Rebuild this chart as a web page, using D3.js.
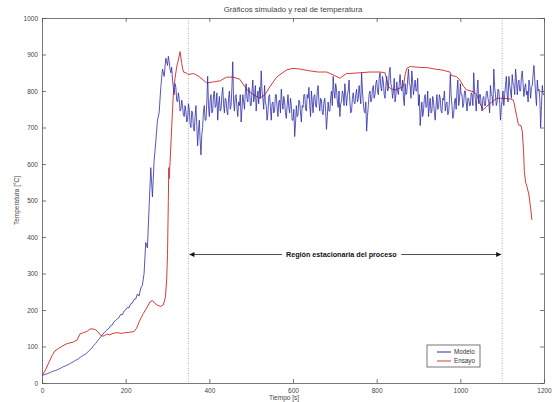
<!DOCTYPE html>
<html lang="es">
<head>
<meta charset="UTF-8">
<script src="https://cdn.jsdelivr.net/npm/d3@7"></script>
<title>Temperatura</title>
<style>
  body { margin: 0; background: #fff; }
  text { font-family: "Liberation Sans", Arial, sans-serif; fill: #333; }
</style>
</head>
<body>
<div id="chart" style="width: 553px; height: 402px;"></div>
<script>
var xTicks = [0, 200, 400, 600, 800, 1000, 1200];
var yTicks = [0, 100, 200, 300, 400, 500, 600, 700, 800, 900, 1000];
var seriesNames = ["Modelo", "Ensayo"];
var seriesColors = ["#2c2caa", "#d93a3a"];

// Modelo, subida: una muestra cada 4 s, t = 0 .. 296
var riseStep = 4;
var modeloRise = [
  20, 22, 24, 25, 27, 29, 31, 33, 34, 36,
  38, 40, 43, 45, 47, 49, 51, 54, 56, 59,
  62, 64, 67, 71, 74, 77, 79, 83, 88, 92,
  97, 103, 108, 114, 120, 126, 131, 137, 142, 146,
  150, 157, 159, 168, 171, 176, 179, 188, 187, 197,
  200, 207, 206, 217, 219, 229, 230, 244, 238, 260,
  268, 300, 385, 370, 480, 590, 510, 610, 660, 720,
  740, 810, 860, 840, 890
];

// Modelo, region ruidosa: una muestra cada 2 s, t = 300 .. 1200
var bandStart = 300, bandStep = 2;
var modeloBand = [
  870, 895, 880, 860, 850, 865, 830, 810, 790, 820, 810, 775, 770, 795, 780, 745, 750, 775, 760, 735,
  730, 760, 745, 715, 720, 765, 750, 710, 700, 745, 740, 700, 690, 730, 760, 705, 650, 690, 720, 665,
  625, 680, 700, 745, 760, 720, 720, 770, 840, 760, 730, 775, 790, 740, 745, 790, 800, 755, 760, 795,
  720, 760, 785, 745, 750, 790, 810, 765, 740, 780, 775, 745, 735, 780, 800, 750, 760, 810, 880, 770,
  745, 785, 790, 755, 730, 770, 760, 790, 715, 750, 790, 770, 750, 795, 820, 780, 770, 810, 805, 760,
  760, 800, 830, 770, 785, 815, 745, 780, 800, 765, 810, 780, 855, 800, 780, 750, 815, 770, 760, 720,
  740, 785, 790, 755, 720, 765, 770, 740, 745, 790, 790, 755, 730, 770, 775, 740, 805, 770, 750, 785,
  770, 740, 725, 760, 790, 755, 740, 780, 760, 720, 720, 750, 675, 710, 760, 730, 735, 775, 770, 740,
  715, 760, 755, 790, 790, 750, 745, 790, 780, 810, 760, 730, 800, 770, 740, 785, 790, 760, 755, 800,
  815, 770, 745, 780, 775, 740, 735, 770, 780, 745, 695, 730, 770, 745, 745, 780, 800, 760, 840, 800,
  780, 820, 805, 770, 755, 800, 730, 765, 770, 800, 790, 760, 820, 790, 760, 790, 800, 830, 770, 740,
  745, 780, 795, 770, 765, 790, 805, 770, 780, 815, 790, 765, 850, 800, 770, 745, 740, 770, 690, 730,
  760, 790, 800, 770, 775, 805, 815, 780, 790, 820, 830, 800, 790, 835, 850, 810, 800, 840, 825, 790,
  780, 815, 840, 800, 805, 850, 865, 820, 810, 780, 800, 835, 770, 790, 825, 800, 790, 820, 845, 810,
  800, 830, 780, 760, 820, 790, 795, 830, 860, 820, 815, 780, 855, 825, 790, 810, 830, 800, 800, 835,
  760, 790, 705, 740, 770, 730, 745, 780, 790, 755, 760, 800, 730, 760, 780, 740, 745, 785, 770, 740,
  720, 760, 790, 750, 755, 790, 780, 745, 740, 780, 775, 800, 745, 765, 770, 735, 740, 775, 845, 790,
  760, 725, 735, 770, 780, 750, 800, 830, 760, 775, 820, 790, 790, 755, 765, 800, 800, 770, 745, 780,
  780, 760, 760, 795, 790, 760, 850, 800, 775, 745, 800, 830, 765, 790, 790, 760, 745, 780, 785, 760,
  760, 795, 800, 780, 770, 740, 815, 790, 785, 760, 860, 810, 790, 760, 770, 805, 800, 770, 720, 755,
  775, 800, 760, 790, 815, 840, 790, 770, 840, 815, 800, 780, 845, 820, 815, 790, 860, 835, 790, 820,
  830, 800, 800, 840, 855, 820, 785, 810, 820, 790, 800, 770, 830, 815, 780, 810, 815, 845, 870, 830,
  790, 760, 830, 800, 805, 780, 700, 760, 815, 790,
  790
];

// Ensayo: tiempos y temperaturas medidas
var ensayoTime = [
  0, 8, 16, 24, 31, 40, 50, 60, 67, 75, 84, 91, 100, 108, 115, 122, 128, 134, 139, 145,
  150, 155, 162, 170, 180, 190, 200, 210, 220, 226, 234, 242, 250, 258, 264, 270, 276, 284, 290, 295,
  298, 300, 302, 303, 304, 306, 310, 314, 318, 322, 326, 330, 334, 338, 344, 350, 362, 375, 394, 410,
  426, 441, 457, 473, 489, 505, 521, 533, 545, 561, 569, 585, 600, 617, 641, 660, 681, 700, 712, 728,
  736, 760, 784, 808, 820, 828, 836, 844, 856, 864, 868, 872, 880, 900, 920, 940, 959, 968, 975, 979,
  990, 999, 1008, 1015, 1031, 1039, 1047, 1055, 1063, 1071, 1087, 1103, 1120, 1127, 1135, 1139, 1145, 1148, 1151, 1153,
  1156, 1160, 1164, 1168, 1171
];
var ensayoValues = [
  20, 35, 55, 75, 88, 95, 102, 108, 110, 112, 118, 135, 138, 142, 148, 148, 146, 140, 132, 128,
  130, 134, 132, 136, 138, 136, 138, 139, 141, 150, 172, 190, 205, 222, 226, 218, 213, 210, 214, 235,
  282, 350, 500, 590, 560, 602, 700, 794, 835, 866, 885, 908, 875, 852, 850, 845, 848, 840, 822, 825,
  828, 838, 838, 832, 805, 790, 780, 790, 812, 838, 845, 858, 862, 860, 855, 852, 852, 842, 835, 848,
  848, 850, 852, 852, 850, 812, 805, 803, 808, 812, 845, 862, 867, 865, 864, 860, 857, 854, 852, 842,
  840, 830, 812, 803, 798, 790, 766, 748, 758, 766, 780, 780, 778, 775, 730, 707, 705, 690, 640, 580,
  550, 535, 515, 480, 447
];

// limites de la region estacionaria y nivel de la flecha
var regionLimits = [350, 1100];
var regionLevel = 352;

var width = 553, height = 402;
var mLeft = 42, mRight = 544, mTop = 18, mBottom = 383;

var svg = d3.select("#chart").append("svg")
  .attr("width", width)
  .attr("height", height);

var x = d3.scaleLinear().domain([0, 1200]).range([mLeft, mRight]);
var y = d3.scaleLinear().domain([0, 1000]).range([mBottom, mTop]);

// punta de flecha
var defs = svg.append("defs");
defs.append("marker")
  .attr("id", "head")
  .attr("viewBox", "0 0 10 10")
  .attr("refX", 10).attr("refY", 5)
  .attr("markerWidth", 7).attr("markerHeight", 5)
  .attr("markerUnits", "userSpaceOnUse")
  .attr("orient", "auto-start-reverse")
  .append("path")
  .attr("d", "M0,0 L10,5 L0,10 z")
  .attr("fill", "#111");

defs.append("clipPath").attr("id", "plotClip")
  .append("rect")
  .attr("x", mLeft).attr("y", mTop)
  .attr("width", mRight - mLeft).attr("height", mBottom - mTop);

// lineas verticales punteadas
svg.selectAll(".limit")
  .data(regionLimits)
  .enter().append("line")
  .attr("class", "limit")
  .attr("x1", d => x(d)).attr("x2", d => x(d))
  .attr("y1", mTop).attr("y2", mBottom)
  .attr("stroke", "#a0a0a0")
  .attr("stroke-width", 0.8)
  .attr("stroke-dasharray", "1,1.5");

var line = d3.line()
  .x(d => x(d[0]))
  .y(d => y(d[1]));

var modelo = modeloRise.map((v, i) => [i * riseStep, v])
  .concat(modeloBand.map((v, i) => [bandStart + i * bandStep, v]));
var ensayo = ensayoTime.map((t, i) => [t, ensayoValues[i]]);

var plot = svg.append("g").attr("clip-path", "url(#plotClip)");

plot.append("path")
  .datum(ensayo)
  .attr("d", line)
  .attr("fill", "none")
  .attr("stroke", seriesColors[1])
  .attr("stroke-width", 1);

plot.append("path")
  .datum(modelo)
  .attr("d", line)
  .attr("fill", "none")
  .attr("stroke", seriesColors[0])
  .attr("stroke-width", 0.8)
  .attr("stroke-linejoin", "round");

// flecha de la region
svg.append("line")
  .attr("x1", x(regionLimits[0]) + 1).attr("x2", x(regionLimits[1]) - 1)
  .attr("y1", y(regionLevel)).attr("y2", y(regionLevel))
  .attr("stroke", "#222")
  .attr("stroke-width", 0.8)
  .attr("marker-start", "url(#head)")
  .attr("marker-end", "url(#head)");

var labelBg = svg.append("rect").attr("fill", "#fff");
var label = svg.append("text")
  .attr("x", x((regionLimits[0] + regionLimits[1]) / 2) - 4)
  .attr("y", y(regionLevel) + 2.5)
  .attr("text-anchor", "middle")
  .attr("font-size", 7.2)
  .attr("font-weight", "bold")
  .style("fill", "#111")
  .text("Región estacionaria del proceso");
var bb = label.node().getBBox();
labelBg
  .attr("x", bb.x - 4).attr("y", bb.y)
  .attr("width", bb.width + 8).attr("height", bb.height);

// ejes
function frame(axis, tr, labels) {
  var g = svg.append("g").attr("transform", tr).call(axis);
  g.select(".domain").attr("stroke", "#555").attr("stroke-width", 0.8);
  g.selectAll(".tick line").attr("stroke", "#555").attr("stroke-width", 0.8);
  g.selectAll("text").attr("font-size", 6.5).style("fill", "#444")
    .attr("font-family", "Liberation Sans, Arial, sans-serif");
  if (!labels) g.selectAll("text").remove();
  return g;
}
var fmt = d3.format("d");
frame(d3.axisBottom(x).tickValues(xTicks).tickFormat(fmt).tickSize(-4).tickSizeOuter(0).tickPadding(5), "translate(0," + mBottom + ")", true);
frame(d3.axisTop(x).tickValues(xTicks).tickSize(-4).tickSizeOuter(0), "translate(0," + mTop + ")", false);
frame(d3.axisLeft(y).tickValues(yTicks).tickFormat(fmt).tickSize(-4).tickSizeOuter(0).tickPadding(4), "translate(" + mLeft + ",0)", true);
frame(d3.axisRight(y).tickValues(yTicks).tickSize(-4).tickSizeOuter(0), "translate(" + mRight + ",0)", false);

// titulos
svg.append("text")
  .attr("x", (mLeft + mRight) / 2).attr("y", 12)
  .attr("text-anchor", "middle")
  .attr("font-size", 7.8)
  .style("fill", "#444")
  .text("Gráficos simulado y real de temperatura");

svg.append("text")
  .attr("x", 284).attr("y", 400)
  .attr("text-anchor", "middle")
  .attr("font-size", 6.5)
  .style("fill", "#444")
  .text("Tiempo [s]");

svg.append("text")
  .attr("transform", "translate(19," + (mTop + mBottom) / 2 + ") rotate(-90)")
  .attr("text-anchor", "middle")
  .attr("font-size", 6.5)
  .style("fill", "#444")
  .text("Temperatura [°C]");

// leyenda
var legend = svg.append("g").attr("transform", "translate(427,345)");
legend.append("rect")
  .attr("width", 53).attr("height", 22)
  .attr("fill", "#fff")
  .attr("stroke", "#555").attr("stroke-width", 0.8);
var item = legend.selectAll(".item")
  .data(seriesNames)
  .enter().append("g")
  .attr("transform", (d, i) => "translate(0," + (7 + i * 9) + ")");
item.append("line")
  .attr("x1", 10).attr("x2", 24)
  .attr("stroke", (d, i) => seriesColors[i])
  .attr("stroke-width", 1);
item.append("text")
  .attr("x", 27).attr("y", 2.3)
  .attr("font-size", 6.3)
  .text(d => d);
</script>
</body>
</html>
